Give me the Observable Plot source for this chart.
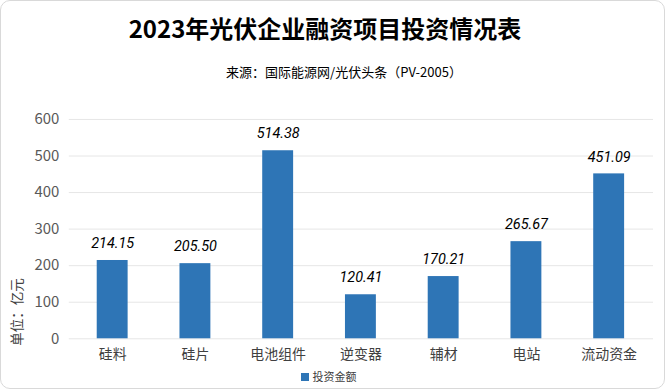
<!DOCTYPE html>
<html><head><meta charset="utf-8">
<script src="https://cdn.jsdelivr.net/npm/d3@7"></script>
<script src="https://cdn.jsdelivr.net/npm/@observablehq/plot@0.6"></script>
<style>
body{margin:0;background:#fff;font-family:"Noto Sans CJK SC","Noto Sans",sans-serif;}
#box{position:relative;width:663px;height:387px;border:1px solid #d9d9d9;border-radius:10px;overflow:hidden;background:#fff;}
#title{position:absolute;top:9px;left:0;width:648px;text-align:center;font-size:24px;font-weight:bold;color:#000;}
#sub{position:absolute;top:61px;left:19px;width:648px;text-align:center;font-size:13px;color:#000;}
.fw{font-family:"Noto Sans CJK SC";font-feature-settings:"fwid" 1;text-spacing-trim:space-all;}
#ylab{position:absolute;left:-20px;top:301px;width:70px;text-align:center;font-size:13.5px;color:#404040;transform:rotate(-90deg);white-space:nowrap;}
#chart{position:absolute;left:0;top:100px;}
#legend{position:absolute;top:367px;left:-5px;width:665px;text-align:center;font-size:11px;color:#404040;}
#legend span.sw{display:inline-block;width:8px;height:8px;background:#2e75b6;margin-right:4px;vertical-align:-0px;}
</style></head>
<body>
<div id="box">
  <div id="title">2023年光伏企业融资项目投资情况表</div>
  <div id="sub">来源<span class="fw">：</span>国际能源网/光伏头条<span class="fw">（</span>PV-2005<span class="fw">）</span></div>
  <div id="chart"></div>
  <div id="ylab">单位<span class="fw">：</span>亿元</div>
  <div id="legend"><span class="sw"></span>投资金额</div>
</div>
<script>
const categories = ["硅料","硅片","电池组件","逆变器","辅材","电站","流动资金"];
const values = [214.15, 205.50, 514.38, 120.41, 170.21, 265.67, 451.09];
const yTicks = [0,100,200,300,400,500,600];
const seriesName = "投资金额";

const data = categories.map((c,i)=>({category:c, value:values[i]}));

const plot = Plot.plot({
  width: 665,
  height: 268,
  marginTop: 18,
  marginBottom: 30,
  marginLeft: 68,
  marginRight: 11,
  style: {fontFamily: "'Noto Sans CJK SC','Noto Sans',sans-serif", background: "transparent"},
  x: {domain: categories, paddingInner: 0.623, paddingOuter: 0.32, label: null},
  y: {domain: [0,600], label: null},
  marks: [
    Plot.gridY(yTicks, {stroke: "#e6e6e6", strokeOpacity: 1, strokeWidth: 1}),
    Plot.axisY(yTicks, {tickSize: 0, tickPadding: 10, fontSize: 15, fill: "#595959", label: null}),
    Plot.axisX({tickSize: 0, tickPadding: 10, fontSize: 14, fill: "#404040", label: null}),
    Plot.barY(data, {x: "category", y: "value", fill: "#2e75b6"}),
    Plot.text(data, {x: "category", y: "value", text: d => d.value.toFixed(2), dy: -17, fontSize: 14.5, fontStyle: "italic", fill: "#000", fontFamily: "Roboto,'Liberation Sans',sans-serif"})
  ]
});
document.getElementById("chart").appendChild(plot);
</script>
</body></html>
